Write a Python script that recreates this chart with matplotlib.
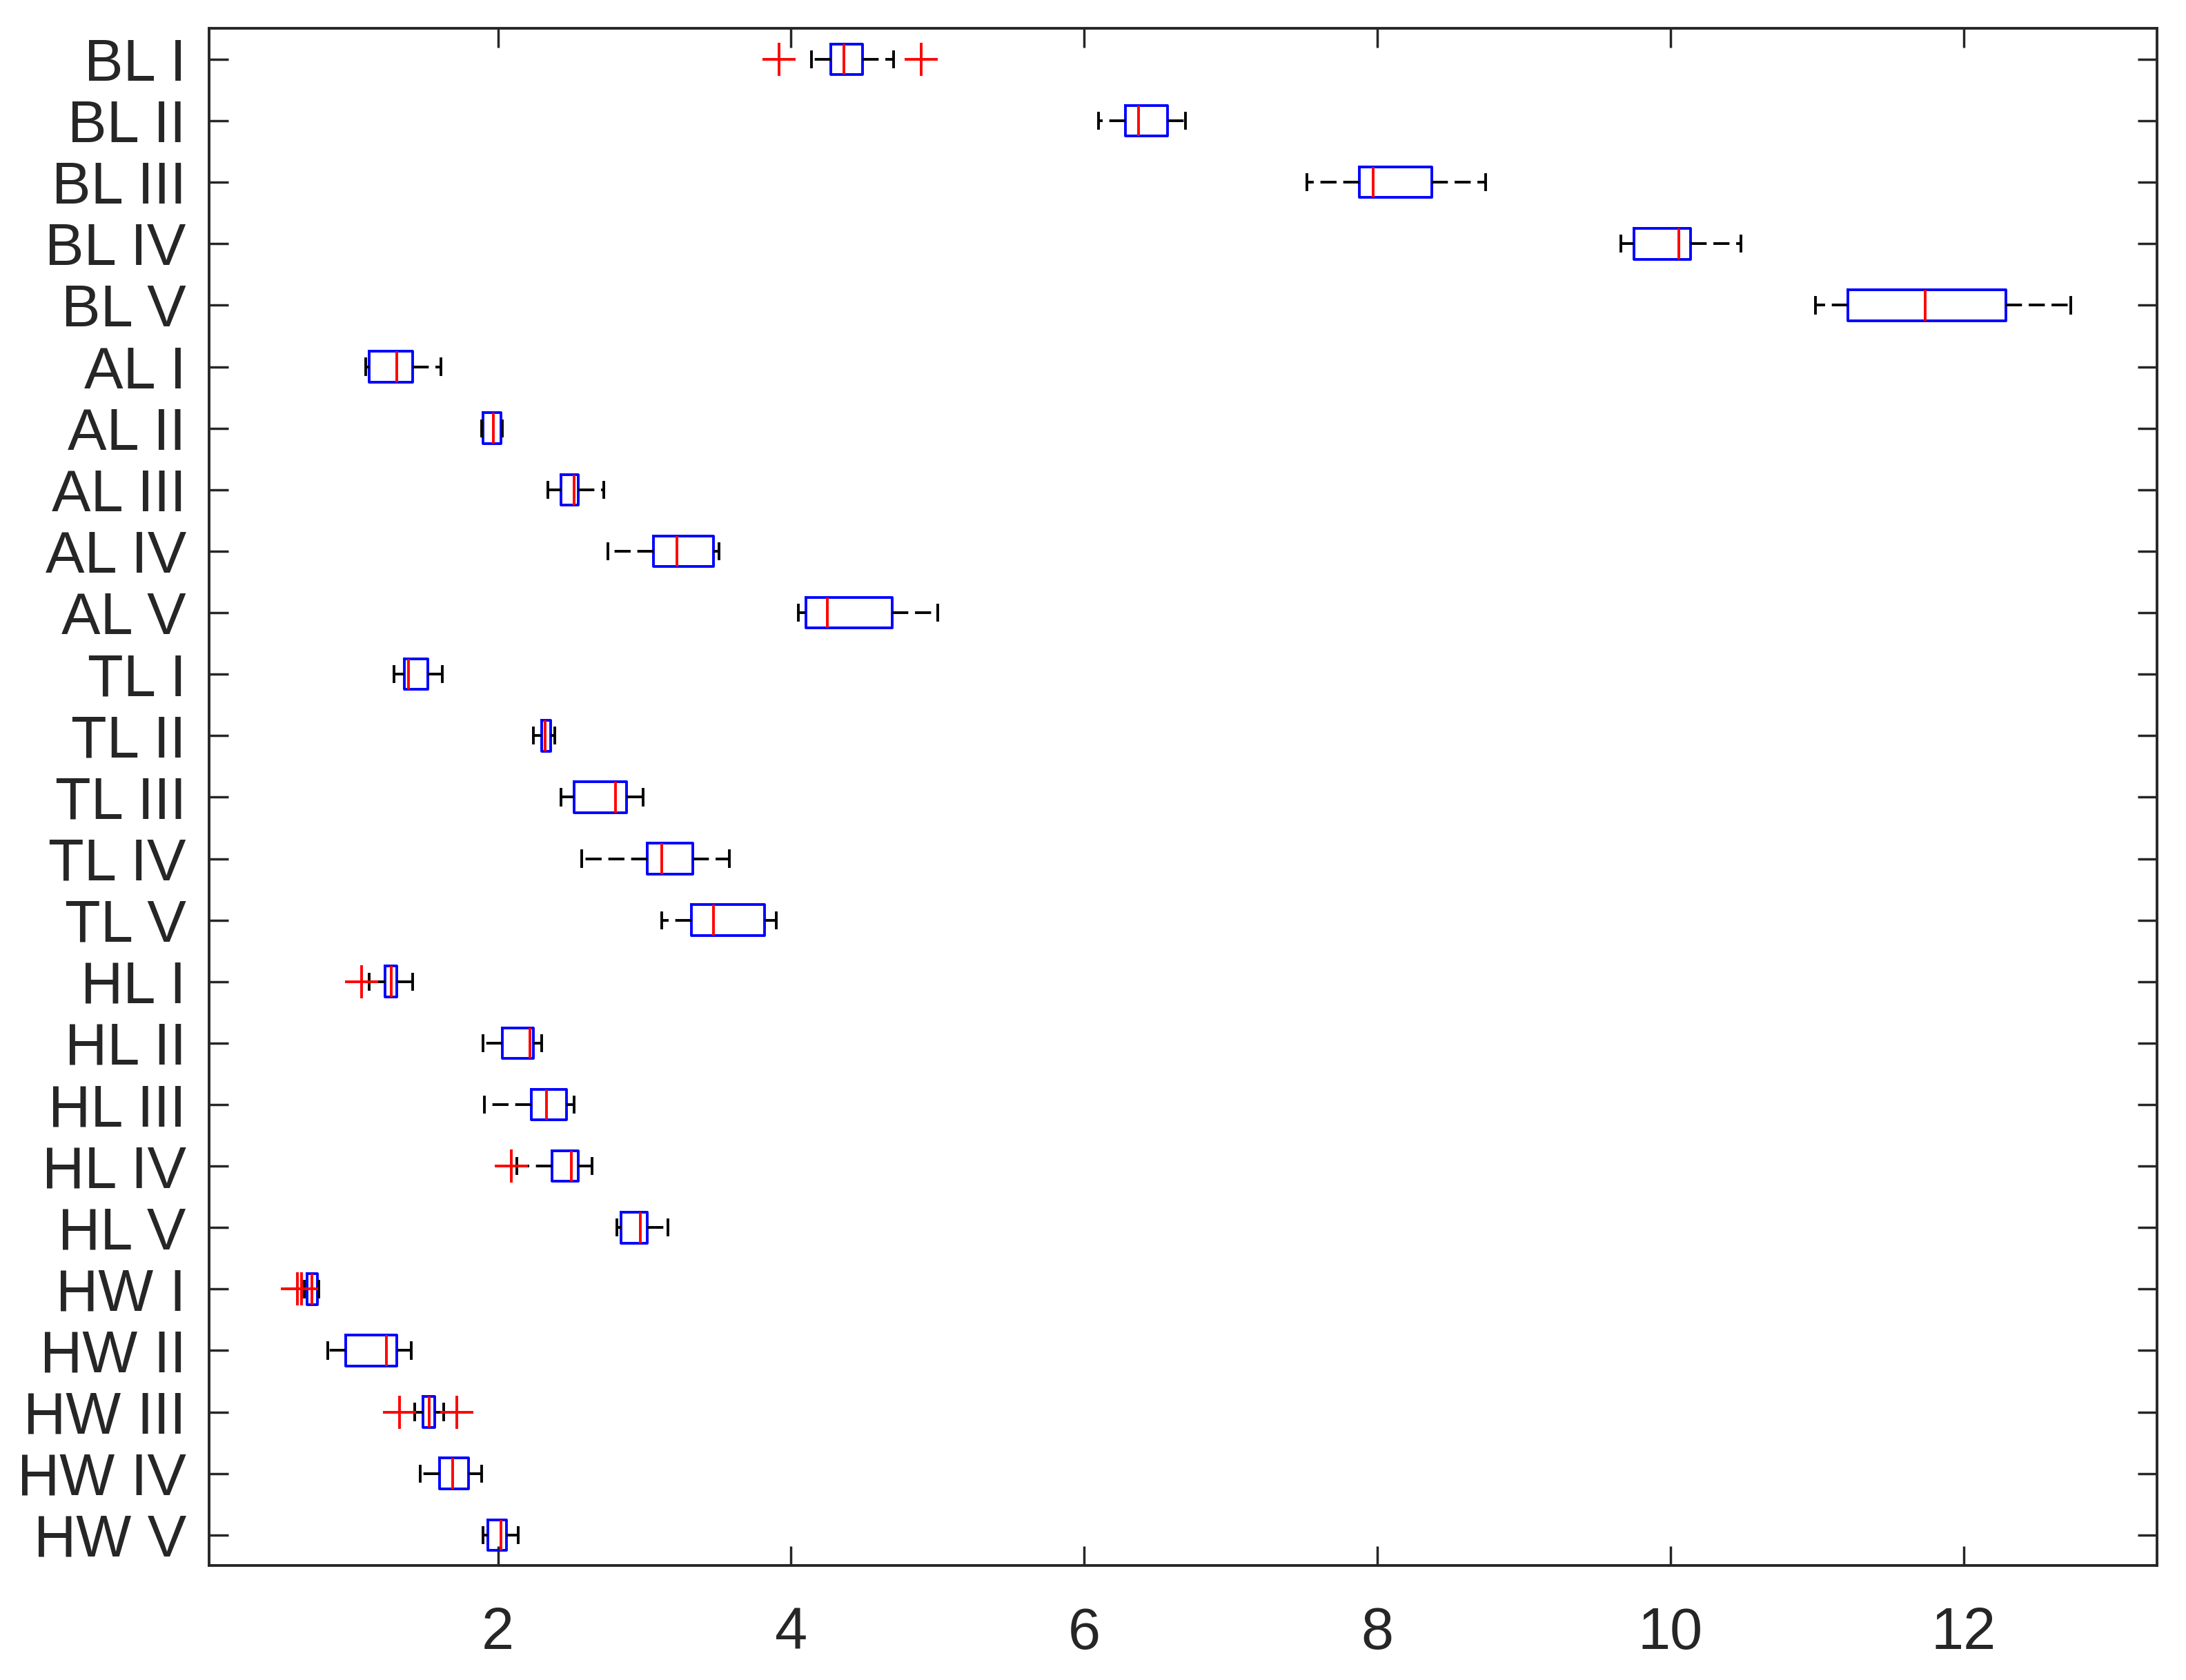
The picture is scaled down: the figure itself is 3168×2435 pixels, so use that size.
import matplotlib.pyplot as plt

labels = ["BL I", "BL II", "BL III", "BL IV", "BL V",
          "AL I", "AL II", "AL III", "AL IV", "AL V",
          "TL I", "TL II", "TL III", "TL IV", "TL V",
          "HL I", "HL II", "HL III", "HL IV", "HL V",
          "HW I", "HW II", "HW III", "HW IV", "HW V"]

# whisker low, Q1, median, Q3, whisker high
whis_lo = [4.14, 6.10, 7.52, 9.66, 10.99,
           1.10, 1.89, 2.34, 2.75, 4.05,
           1.29, 2.24, 2.43, 2.57, 3.12,
           1.12, 1.90, 1.91, 2.13, 2.81,
           0.68, 0.84, 1.43, 1.47, 1.90]
q1 = [4.27, 6.28, 7.88, 9.75, 11.21,
      1.12, 1.90, 2.43, 3.06, 4.10,
      1.36, 2.30, 2.52, 3.02, 3.32,
      1.23, 2.03, 2.23, 2.37, 2.84,
      0.70, 0.96, 1.49, 1.60, 1.93]
med = [4.36, 6.37, 7.97, 10.06, 11.74,
       1.31, 1.97, 2.52, 3.22, 4.25,
       1.39, 2.32, 2.80, 3.12, 3.47,
       1.27, 2.22, 2.33, 2.50, 2.97,
       0.73, 1.24, 1.53, 1.69, 2.02]
q3 = [4.49, 6.57, 8.37, 10.14, 12.29,
      1.42, 2.02, 2.55, 3.47, 4.69,
      1.52, 2.36, 2.88, 3.33, 3.82,
      1.31, 2.24, 2.47, 2.55, 3.02,
      0.77, 1.31, 1.57, 1.80, 2.06]
whis_hi = [4.70, 6.69, 8.74, 10.48, 12.73,
           1.61, 2.03, 2.72, 3.51, 5.00,
           1.62, 2.39, 2.99, 3.58, 3.90,
           1.42, 2.30, 2.52, 2.64, 3.16,
           0.78, 1.41, 1.63, 1.89, 2.14]
outliers = {"BL I": [3.92, 4.89], "HL I": [1.07], "HL IV": [2.09],
            "HW I": [0.63, 0.66], "HW III": [1.33, 1.72]}

stats = []
for i, lab in enumerate(labels):
    stats.append(dict(label=lab, whislo=whis_lo[i], q1=q1[i], med=med[i],
                      q3=q3[i], whishi=whis_hi[i],
                      fliers=outliers.get(lab, [])))

plt.rcParams['font.family'] = ['Liberation Sans', 'DejaVu Sans']
fig = plt.figure(figsize=(31.68, 24.35), dpi=100)
ax = fig.add_axes([0.0957, 0.068, 0.891, 0.915])

pos = list(range(1, len(labels) + 1))
lw = 2.8
ax.bxp(stats, positions=pos, widths=0.5, vert=False, showfliers=True,
       boxprops=dict(color='blue', linewidth=lw),
       medianprops=dict(color='red', linewidth=lw),
       whiskerprops=dict(color='black', linewidth=lw, linestyle=(0, (6, 2.5))),
       capprops=dict(color='black', linewidth=lw),
       flierprops=dict(marker='+', markeredgecolor='red', markersize=34,
                       markeredgewidth=lw, linestyle='none'))

ax.set_ylim(len(labels) + 0.5, 0.5)
ax.set_xlim(0.03, 13.32)
ax.set_yticks(pos)
ax.set_yticklabels(labels)
ax.set_xticks([2, 4, 6, 8, 10, 12])

ax.tick_params(axis='both', direction='in', length=20, width=2.5,
               top=True, right=True, labelsize=61, colors='#262626')
ax.tick_params(axis='y', pad=24)
ax.tick_params(axis='x', pad=42)
for s in ax.spines.values():
    s.set_linewidth(2.8)
    s.set_color('#262626')

fig.savefig('out.png', dpi=100)
